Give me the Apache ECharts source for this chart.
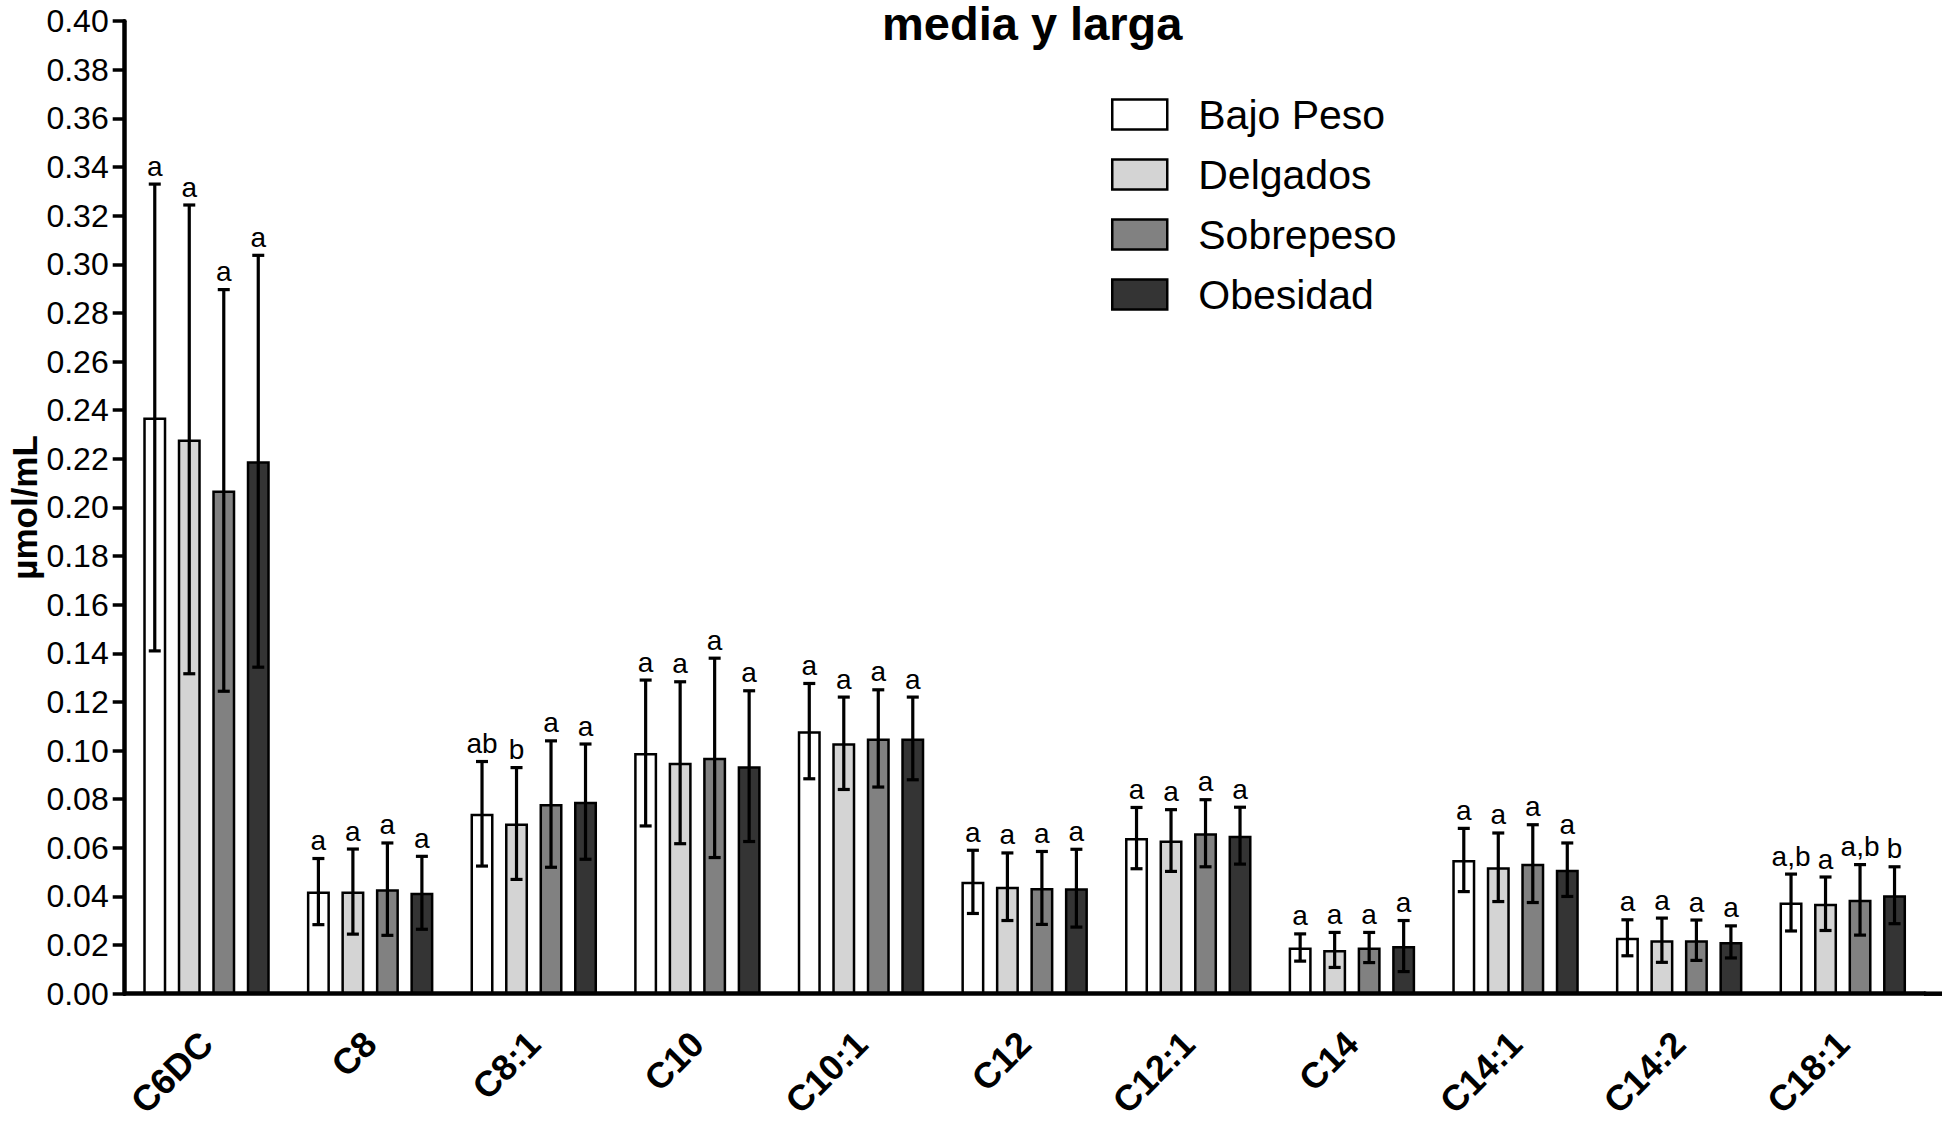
<!DOCTYPE html>
<html>
<head>
<meta charset="utf-8">
<title>media y larga</title>
<script src="https://cdn.jsdelivr.net/npm/echarts@6/dist/echarts.min.js"></script>
<style>
    html, body { margin: 0; padding: 0; background: #fff; }
    #chart_container { width: 1955px; height: 1123px; }
</style>
</head>
<body>
<div id="chart_container"></div>
<script>
// acylcarnitines, media y larga cadena (umol/mL), mean and SD per group
const categories = ['C6DC', 'C8', 'C8:1', 'C10', 'C10:1', 'C12', 'C12:1', 'C14', 'C14:1', 'C14:2', 'C18:1'];
const groups = ['Bajo Peso', 'Delgados', 'Sobrepeso', 'Obesidad'];

const bajoPeso  = [0.237, 0.042, 0.074, 0.099, 0.108, 0.046, 0.064, 0.019, 0.055, 0.023, 0.0375];
const delgados  = [0.228, 0.042, 0.070, 0.095, 0.103, 0.044, 0.063, 0.018, 0.052, 0.022, 0.037];
const sobrepeso = [0.207, 0.043, 0.078, 0.097, 0.105, 0.0435, 0.066, 0.019, 0.0535, 0.022, 0.0386];
const obesidad  = [0.219, 0.0415, 0.079, 0.0936, 0.105, 0.0434, 0.065, 0.0196, 0.051, 0.0213, 0.0405];

const bajoPesoSd  = [0.096, 0.0136, 0.0215, 0.030, 0.0196, 0.013, 0.0126, 0.0056, 0.013, 0.0074, 0.0117];
const delgadosSd  = [0.0964, 0.0175, 0.023, 0.0333, 0.019, 0.0139, 0.0127, 0.0072, 0.0141, 0.0091, 0.011];
const sobrepesoSd = [0.0826, 0.019, 0.026, 0.041, 0.020, 0.015, 0.0138, 0.0062, 0.016, 0.0083, 0.0145];
const obesidadSd  = [0.0847, 0.015, 0.0237, 0.031, 0.017, 0.016, 0.0117, 0.0105, 0.011, 0.0066, 0.0117];

const bajoPesoLetters  = ['a', 'a', 'ab', 'a', 'a', 'a', 'a', 'a', 'a', 'a', 'a,b'];
const delgadosLetters  = ['a', 'a', 'b', 'a', 'a', 'a', 'a', 'a', 'a', 'a', 'a'];
const sobrepesoLetters = ['a', 'a', 'a', 'a', 'a', 'a', 'a', 'a', 'a', 'a', 'a,b'];
const obesidadLetters  = ['a', 'a', 'a', 'a', 'a', 'a', 'a', 'a', 'a', 'a', 'b'];

const yTicks = [0, 0.4, 0.02]; // min, max, step

const fontFamily = '"Liberation Sans", Arial, Helvetica, sans-serif';
const colors = ['#ffffff', '#d4d4d4', '#818181', '#343434'];
const barWidth = 23;
const barGap = 0.5;
const barPitch = barWidth * (1 + barGap);
const capHalf = 6;

const means = [bajoPeso, delgados, sobrepeso, obesidad];
const sds = [bajoPesoSd, delgadosSd, sobrepesoSd, obesidadSd];
const letters = [bajoPesoLetters, delgadosLetters, sobrepesoLetters, obesidadLetters];

function barSeries(idx) {
    return {
        name: groups[idx],
        type: 'bar',
        barWidth: barWidth,
        barGap: (barGap * 100) + '%',
        data: means[idx],
        z: 2,
        itemStyle: {
            color: colors[idx],
            borderColor: '#000',
            borderWidth: 2.5
        }
    };
}

function errorSeries(idx) {
    return {
        name: groups[idx] + ' SD',
        type: 'custom',
        z: 5,
        data: means[idx].map(function (m, i) { return [i, m, sds[idx][i]]; }),
        encode: { x: 0, y: 1 },
        renderItem: function (params, api) {
            const cat = api.value(0);
            const mean = api.value(1);
            const sd = api.value(2);
            const x = api.coord([cat, mean])[0] + (idx - 1.5) * barPitch;
            const top = api.coord([cat, mean + sd])[1];
            const bottom = api.coord([cat, mean - sd])[1];
            const style = { stroke: '#000', lineWidth: 3.2 };
            return {
                type: 'group',
                children: [
                    { type: 'line', shape: { x1: x, y1: top, x2: x, y2: bottom }, style: style },
                    { type: 'line', shape: { x1: x - capHalf, y1: top, x2: x + capHalf, y2: top }, style: style },
                    { type: 'line', shape: { x1: x - capHalf, y1: bottom, x2: x + capHalf, y2: bottom }, style: style },
                    {
                        type: 'text',
                        x: x,
                        y: top - 4,
                        style: {
                            text: letters[idx][params.dataIndex],
                            align: 'center',
                            verticalAlign: 'bottom',
                            fontSize: 28,
                            fontFamily: fontFamily,
                            fill: '#000'
                        }
                    }
                ]
            };
        }
    };
}

var dom = document.getElementById('chart_container');
var myChart = echarts.init(dom, null, {
    renderer: 'svg',
    width: 1955,
    height: 1123
});

var option = {
    animation: false,
    backgroundColor: '#fff',
    textStyle: { fontFamily: fontFamily, color: '#000' },
    title: {
        text: 'media y larga',
        left: 882,
        top: 0,
        padding: 0,
        textStyle: {
            fontSize: 47,
            fontWeight: 'bold',
            color: '#000',
            fontFamily: fontFamily
        }
    },
    legend: {
        data: groups,
        orient: 'vertical',
        left: 1111,
        top: 94,
        padding: 0,
        itemWidth: 55,
        itemHeight: 30,
        itemGap: 19,
        icon: 'rect',
        selectedMode: false,
        itemStyle: { borderColor: '#000', borderWidth: 2.5 },
        textStyle: {
            fontSize: 41,
            color: '#000',
            fontFamily: fontFamily,
            padding: [0, 0, 0, 26]
        }
    },
    grid: {
        left: 124.7,
        right: 30.4,
        top: 21.2,
        bottom: 129.3,
        containLabel: false,
        outerBoundsMode: 'none'
    },
    xAxis: {
        type: 'category',
        data: categories,
        axisLine: { lineStyle: { color: '#000', width: 4.5 } },
        axisTick: { alignWithLabel: true, length: 14, lineStyle: { color: '#000', width: 4.5 } },
        axisLabel: {
            rotate: 45,
            margin: 44,
            fontSize: 36,
            fontWeight: 'bold',
            color: '#000',
            fontFamily: fontFamily,
            interval: 0
        },
        splitLine: { show: false }
    },
    yAxis: {
        type: 'value',
        min: yTicks[0],
        max: yTicks[1],
        interval: yTicks[2],
        name: 'µmol/mL',
        nameLocation: 'middle',
        nameGap: 83,
        nameMoveOverlap: false,
        nameTextStyle: {
            fontSize: 35,
            fontWeight: 'bold',
            color: '#000',
            fontFamily: fontFamily
        },
        axisLine: { show: true, lineStyle: { color: '#000', width: 4.5 } },
        axisTick: { show: true, length: 12, lineStyle: { color: '#000', width: 3.5 } },
        axisLabel: {
            margin: 16,
            fontSize: 32,
            color: '#000',
            fontFamily: fontFamily,
            formatter: function (v) { return v.toFixed(2); }
        },
        splitLine: { show: false }
    },
    graphic: [
        {
            // the x axis line runs a little past the last category band
            type: 'line',
            shape: { x1: 1924, y1: 993.7, x2: 1942, y2: 993.7 },
            style: { stroke: '#000', lineWidth: 4.5 }
        }
    ],
    series: [
        barSeries(0), barSeries(1), barSeries(2), barSeries(3),
        errorSeries(0), errorSeries(1), errorSeries(2), errorSeries(3)
    ]
};

myChart.setOption(option);
</script>
</body>
</html>
